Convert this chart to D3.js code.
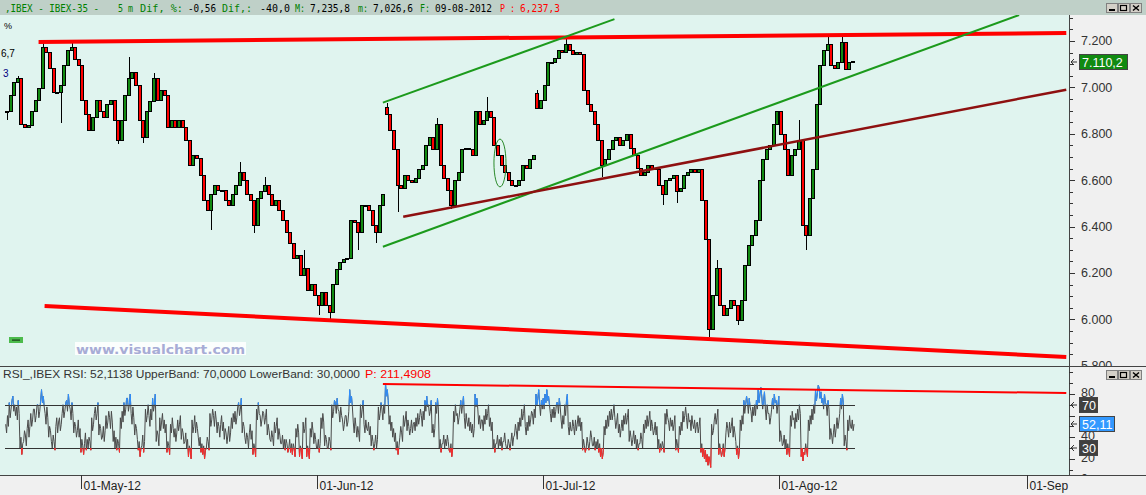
<!DOCTYPE html>
<html><head><meta charset="utf-8">
<script src="https://cdn.jsdelivr.net/npm/d3@7"></script>
<style>html,body{margin:0;padding:0;background:#f0f0f0;}svg{display:block;}</style>
</head><body><svg id="c" width="1146" height="495"></svg>
<script>
// ---------- DATA ----------
// IBEX-35 closes (3 bars per trading day), starting 7 trading days before 01-May-12
const closes = [
6894,6967,7023,7040,6838,6825,6834,6894,6945,6997,
7170,7152,7083,6980,6980,7010,7096,7161,7170,7118,
7096,6945,6881,6816,6868,6945,6894,6868,6924,6945,
6859,6773,6859,6967,7040,7066,7010,6859,6782,6894,
6937,7040,6945,6988,6967,6825,6859,6825,6859,6825,
6773,6665,6708,6695,6622,6514,6471,6536,6579,6557,
6557,6514,6492,6536,6579,6635,6600,6536,6514,6406,
6523,6549,6579,6536,6492,6514,6471,6428,6376,6328,
6264,6277,6191,6221,6126,6148,6104,6061,6117,6061,
6031,6148,6213,6247,6256,6264,6428,6419,6376,6492,
6492,6471,6406,6376,6492,6536,6881,6816,6730,6579,
6566,6622,6600,6592,6609,6644,6665,6751,6782,6730,
6838,6665,6609,6557,6492,6600,6635,6730,6738,6730,
6708,6894,6838,6859,6894,6868,6751,6708,6665,6635,
6600,6579,6575,6600,6665,6652,6687,6708,6911,6945,
7010,7109,7109,7126,7161,7152,7183,7161,7140,7152,
7140,6988,6924,6894,6838,6773,6665,6687,6730,6773,
6782,6751,6773,6795,6738,6708,6652,6622,6635,6665,
6652,6644,6579,6536,6600,6609,6622,6549,6566,6622,
6635,6644,6635,6644,6514,6342,5954,6104,6221,6061,
6018,6048,6083,6061,5997,6083,6234,6320,6363,6428,
6600,6687,6730,6751,6838,6894,6795,6730,6622,6708,
6730,6773,6406,6363,6523,6644,6924,7096,7161,7183,
7096,7083,7109,7195,7075,7109,7110
];
// bars that opened with a gap: [bar, open]
const gapOpens = [[106, 6915], [148, 6975]];
// visible long wicks: [bar, price]
const wickHighs = [[3,7050],[10,7195],[18,7195],[34,7131],[41,7060],[65,6678],[72,6613],[83,6299],[106,6932],[120,6870],[134,6958],[148,6990],[156,7215],[198,6256],[221,6859],[229,7215],[233,7225]];
const wickLows = [[0,6859],[15,6846],[31,6755],[38,6760],[57,6385],[69,6372],[87,6020],[90,5990],[98,6299],[103,6328],[109,6462],[124,6475],[166,6613],[183,6492],[187,6501],[196,5924],[204,5975],[223,6299]];

// RSI (4 values per price bar)
const rsiValues = [
52,44,60,50, 72,58,66,74, 78,64,70,60, 68,56,74,62, 30,40,24,34, 36,46,42,32, 48,56,40,50, 62,50,56,66, 66,54,60,70, 70,58,64,74,
84,72,78,68, 62,52,68,58, 40,50,46,36, 30,42,36,28, 50,58,44,54, 58,46,52,62, 70,58,64,72, 74,64,80,70, 66,56,72,62, 44,54,50,40,
46,56,40,48, 26,38,32,24, 34,44,28,38, 30,40,36,28, 58,46,52,62, 68,56,62,72, 42,52,48,38, 40,50,36,46, 60,48,54,64, 58,48,64,54,
36,46,30,40, 28,38,34,26, 58,48,64,54, 72,60,66,76, 76,64,70,80, 62,52,68,58, 42,52,48,38, 28,36,22,30, 32,42,26,36, 66,54,60,70,
60,50,66,56, 76,64,70,80, 36,46,42,32, 58,46,54,62, 48,56,44,52, 26,36,32,24, 52,44,58,48, 40,48,36,44, 56,46,52,60, 38,48,44,34,
36,44,30,38, 22,32,28,20, 56,44,50,60, 44,54,48,40, 32,40,26,34, 24,32,20,28, 30,40,36,28, 62,50,56,66, 60,50,64,56, 44,54,50,40,
52,60,46,54, 38,48,44,34, 42,50,36,44, 58,48,62,54, 64,52,58,68, 72,60,66,76, 44,54,50,40, 34,44,40,30, 44,52,38,46, 24,34,30,22,
66,56,72,62, 60,50,56,64, 62,52,58,66, 42,52,46,38, 36,46,40,32, 54,44,50,58, 38,48,42,34, 34,42,30,38, 28,38,34,26, 30,38,26,34,
24,34,30,22, 48,40,52,44, 22,32,28,20, 54,44,48,58, 22,32,26,20, 48,40,54,46, 34,44,38,30, 30,38,26,34, 58,48,62,54, 32,42,38,30,
30,40,36,28, 70,58,64,74, 72,62,76,66, 64,54,68,60, 56,46,52,60, 60,50,54,64, 84,72,78,68, 54,44,58,50, 40,50,44,36, 70,58,66,74,
52,44,56,48, 46,54,42,50, 32,42,36,28, 34,42,30,38, 68,56,62,72, 66,56,70,62, 90,78,84,74, 52,60,46,54, 40,48,36,44, 28,36,24,32,
40,50,44,36, 60,50,56,64, 46,56,50,42, 48,56,44,52, 54,46,58,50, 62,52,58,66, 60,50,64,56, 74,64,78,68, 70,60,64,74, 44,52,40,48,
72,62,76,66, 30,38,26,34, 34,42,30,38, 32,42,36,28, 26,34,22,30, 64,54,70,60, 62,52,58,66, 74,62,70,78, 58,48,62,54, 50,58,46,54,
44,52,40,48, 80,68,76,66, 52,60,48,56, 56,46,60,52, 66,56,62,70, 50,58,46,54, 30,38,26,34, 34,42,30,38, 32,40,28,36, 36,44,34,30,
30,38,34,28, 36,44,32,40, 42,52,46,38, 54,46,58,50, 66,56,62,70, 50,42,54,46, 60,50,56,64, 62,52,66,58, 80,70,76,84, 70,60,74,66,
76,66,80,72, 84,74,78,70, 62,54,66,58, 68,58,64,72, 72,62,76,68, 56,48,60,52, 70,60,74,80, 50,42,54,46, 46,56,50,42, 56,46,52,60,
50,58,46,54, 28,38,32,26, 30,40,34,28, 36,46,40,32, 32,40,28,36, 30,38,26,34, 22,30,20,26, 50,42,56,48, 60,50,64,56, 66,56,62,70,
58,48,54,62, 44,52,40,48, 56,46,60,52, 62,52,58,66, 36,46,40,32, 38,46,34,42, 30,38,28,34, 34,44,38,30, 52,44,56,48, 60,50,56,64,
46,56,50,42, 46,54,42,50, 30,38,26,34, 28,36,32,26, 62,52,66,58, 54,46,58,50, 56,46,52,60, 28,38,32,26, 50,42,54,46, 64,54,60,68,
58,48,62,54, 56,46,60,52, 48,56,44,52, 54,44,50,58, 26,34,22,30, 20,28,17,24, 14,22,18,12, 52,42,46,56, 62,52,58,66, 24,34,28,22,
26,34,22,30, 44,54,48,40, 54,44,50,58, 40,50,44,36, 24,32,20,28, 56,46,60,52, 74,62,70,78, 72,62,76,68, 64,54,68,60, 70,60,74,66,
84,72,80,86, 78,66,74,82, 66,56,70,62, 62,52,58,66, 76,66,80,72, 74,62,70,78, 36,46,40,32, 34,42,30,38, 24,34,28,22, 60,50,64,56,
58,48,62,54, 66,56,70,62, 22,30,18,26, 24,34,28,22, 56,46,60,52, 66,56,70,62, 84,74,80,88, 86,76,82,72, 76,66,80,72, 70,60,74,66,
38,48,42,34, 44,52,40,48, 58,48,54,62, 76,66,80,72, 32,42,36,28, 56,46,60,50, 48,56,46,52.11
];
const rsiUpperBand = 70;
const rsiLowerBand = 30;

// time axis (trading-day index, 0 = 01-May-12)
const monthTickDays = [0, 22, 43, 65, 88];
const monthTickLabels = ["01-May-12", "01-Jun-12", "01-Jul-12", "01-Ago-12", "01-Sep"];
const firstDay = -7;
const barsPerDay = 3;
const rsiPerDay = 12;

const priceTicks = [5800, 6000, 6200, 6400, 6600, 6800, 7000, 7200];
const priceMinorStep = 50;
const rsiTicks = [0, 20, 40, 60, 80];
const rsiTickLabels = [0, 20, 40, 80];   // 60 is hidden behind the value boxes
const lastPrice = 7110.2;
const lastRsi = 52.11;

// drawn trend lines [day, price]
const topResistance = [[-3.9, 7196], [91.7, 7234]];
const bottomSupport = [[-3.34, 6057], [91.7, 5838]];
const channelUpper = [[28.13, 6934], [49.67, 7294]];
const channelLower = [[28.13, 6313], [87.31, 7312]];
const maroonTrend = [[30.02, 6442], [91.7, 6990]];
const rsiTrend = [[28.13, 89.3], [91.7, 80.9]];
const ellipseMark = {day: 39.02, price: 6674, dDay: 0.56, dPrice: 103};

const headerTexts = [",IBEX - IBEX-35 -", "5 m", "Dif, %:", "-0,56", "Dif,:", "-40,0", "M:", "7,235,8", "m:", "7,026,6", "F:", "09-08-2012", "P :", "6,237,3"];
const headerColors = ["#008000", "#008000", "#008000", "#000", "#008000", "#000", "#008000", "#000", "#008000", "#000", "#008000", "#000", "#ff0000", "#ff0000"];
const rsiHeaderTexts = ["RSI_,IBEX RSI: 52,1138 UpperBand: 70,0000 LowerBand: 30,0000", "P: 211,4908"];
const rsiHeaderColors = ["#333", "#ff0000"];

// ---------- LAYOUT ----------
const W = 1146, H = 495;
const plotR = 1069;
const mainTop = 15, mainBot = 366;
const rsiTop = 367, rsiBot = 475;
const bg = "#e0f4ef";
const headerPos = [[5, 94], [118, 15], [140, 43], [188, 28], [222, 30], [260, 30], [295, 10], [310, 40], [358, 10], [373, 40], [420, 10], [435, 57], [500, 15], [520, 40]];
const rsiHeaderPos = [[3, 357], [365, 66]];
const svg = d3.select("#c");

const x = d3.scaleLinear().domain([0, 88]).range([80.5, 1026.5]);
const y = d3.scaleLinear().domain([5800, 7312]).range([365.7, 15]);
const yR = d3.scaleLinear().domain([0, 100]).range([480.4, 372.4]);

svg.append("rect").attr("width", W).attr("height", H).attr("fill", "#f0f0f0");
svg.append("rect").attr("x", 0).attr("y", 0).attr("width", W).attr("height", mainTop).attr("fill", "#bfd0c8");
svg.append("rect").attr("x", 0).attr("y", mainTop).attr("width", plotR).attr("height", mainBot - mainTop).attr("fill", bg);
svg.append("rect").attr("x", 0).attr("y", rsiTop).attr("width", plotR).attr("height", rsiBot - rsiTop).attr("fill", bg);

const defs = svg.append("defs");
defs.append("clipPath").attr("id", "clipMain").append("rect").attr("x", 0).attr("y", mainTop).attr("width", plotR).attr("height", mainBot - mainTop);
defs.append("clipPath").attr("id", "clipRsi").append("rect").attr("x", 0).attr("y", rsiTop).attr("width", plotR).attr("height", rsiBot - rsiTop);
defs.append("clipPath").attr("id", "clipHi").append("rect").attr("x", 0).attr("y", rsiTop).attr("width", plotR).attr("height", yR(rsiUpperBand) - rsiTop);
defs.append("clipPath").attr("id", "clipLo").append("rect").attr("x", 0).attr("y", yR(rsiLowerBand)).attr("width", plotR).attr("height", rsiBot - yR(rsiLowerBand));
defs.append("clipPath").attr("id", "clipAxisMain").append("rect").attr("x", plotR).attr("y", mainTop).attr("width", W - plotR).attr("height", mainBot - mainTop);
defs.append("clipPath").attr("id", "clipAxisRsi").append("rect").attr("x", plotR).attr("y", rsiTop).attr("width", W - plotR).attr("height", rsiBot - rsiTop);

// ---------- HEADER ----------
svg.append("g").selectAll("text").data(headerTexts).join("text")
  .attr("x", (d, i) => headerPos[i][0]).attr("y", 12)
  .attr("textLength", (d, i) => headerPos[i][1]).attr("lengthAdjust", "spacingAndGlyphs")
  .attr("font-family", "DejaVu Sans Mono").attr("font-size", 10.5)
  .attr("fill", (d, i) => headerColors[i]).text(d => d);

function winButtons(yy) {
  const g = svg.append("g");
  [1106, 1118, 1130].forEach((bx, i) => {
    g.append("rect").attr("x", bx + 0.5).attr("y", yy + 0.5).attr("width", 11).attr("height", 9).attr("fill", "#d4d0c8").attr("stroke", "#808080");
    if (i === 0) g.append("rect").attr("x", bx + 3).attr("y", yy + 6).attr("width", 6).attr("height", 2).attr("fill", "#000");
    if (i === 1) g.append("rect").attr("x", bx + 2.5).attr("y", yy + 2.5).attr("width", 6).attr("height", 5).attr("fill", "none").attr("stroke", "#000").attr("stroke-width", 1.2);
    if (i === 2) g.append("path").attr("d", `M${bx + 3},${yy + 2.5}L${bx + 9},${yy + 7.5}M${bx + 9},${yy + 2.5}L${bx + 3},${yy + 7.5}`).attr("stroke", "#000").attr("stroke-width", 1.5);
  });
}
winButtons(3);

// ---------- MAIN PANEL ----------
const main = svg.append("g").attr("clip-path", "url(#clipMain)");
main.append("text").attr("x", 4).attr("y", 29).attr("font-family", "Liberation Sans").attr("font-size", 9).attr("fill", "#000").text("%");
main.append("text").attr("x", 1).attr("y", 57).attr("font-family", "Liberation Sans").attr("font-size", 10).attr("fill", "#000").text("6,7");
main.append("text").attr("x", 3).attr("y", 77).attr("font-family", "Liberation Sans").attr("font-size", 10).attr("fill", "#000080").text("3");

const barDay = i => firstDay + (i + 0.5) / barsPerDay;
const hiMap = new Map(wickHighs), loMap = new Map(wickLows), gapMap = new Map(gapOpens);
const candles = closes.map((c, i) => {
  const o = gapMap.has(i) ? gapMap.get(i) : (i === 0 ? c : closes[i - 1]);
  const h = Math.max(o, c, hiMap.get(i) ?? -Infinity);
  const l = Math.min(o, c, loMap.get(i) ?? Infinity);
  return {i, o, c, h, l, day: barDay(i)};
});

const cg = main.append("g").attr("shape-rendering", "crispEdges");
cg.selectAll("line.w").data(candles).join("line").attr("class", "w")
  .attr("x1", d => Math.round(x(d.day)) + 0.5).attr("x2", d => Math.round(x(d.day)) + 0.5)
  .attr("y1", d => y(d.h)).attr("y2", d => y(d.l)).attr("stroke", "#000").attr("stroke-width", 1);
cg.selectAll("rect.b").data(candles).join("rect").attr("class", "b")
  .attr("x", d => Math.round(x(d.day)) - 1.5).attr("width", 3)
  .attr("y", d => Math.min(y(d.o), y(d.c)))
  .attr("height", d => Math.max(1, Math.abs(y(d.o) - y(d.c))))
  .attr("fill", d => d.c >= d.o ? "#118a11" : "#ff0000").attr("stroke", "#000").attr("stroke-width", 1);

function trend(g, pts, color, width, ys) {
  g.append("line").attr("x1", x(pts[0][0])).attr("y1", ys(pts[0][1])).attr("x2", x(pts[1][0])).attr("y2", ys(pts[1][1]))
    .attr("stroke", color).attr("stroke-width", width);
}
trend(main, topResistance, "#ff0000", 4, y);
trend(main, bottomSupport, "#ff0000", 4, y);
trend(main, channelUpper, "#1c9a1c", 2, y);
trend(main, channelLower, "#1c9a1c", 2, y);
trend(main, maroonTrend, "#8e1010", 2.5, y);
main.append("ellipse").attr("cx", x(ellipseMark.day)).attr("cy", y(ellipseMark.price))
  .attr("rx", x(ellipseMark.day + ellipseMark.dDay) - x(ellipseMark.day))
  .attr("ry", y(ellipseMark.price - ellipseMark.dPrice) - y(ellipseMark.price))
  .attr("fill", "none").attr("stroke", "#2a8a2a").attr("stroke-width", 1);

// small marker and watermark
main.append("rect").attr("x", 9).attr("y", 337).attr("width", 14).attr("height", 6).attr("fill", "#4cbb4c");
main.append("rect").attr("x", 12).attr("y", 339.5).attr("width", 8).attr("height", 1.2).attr("fill", "#1a3a1a");
main.append("rect").attr("x", 75).attr("y", 342).attr("width", 171).attr("height", 13).attr("fill", "#ffffff").attr("opacity", 0.85);
main.append("text").attr("x", 76).attr("y", 354).attr("font-family", "DejaVu Sans").attr("font-weight", "bold").attr("font-size", 13)
  .attr("textLength", 169).attr("lengthAdjust", "spacingAndGlyphs").attr("fill", "#a7acd6").text("www.visualchart.com");

// ---------- PRICE AXIS ----------
const axG = svg.append("g").attr("clip-path", "url(#clipAxisMain)");
const minor = d3.range(5800, 7312, priceMinorStep);
axG.selectAll("line.mn").data(minor).join("line").attr("class", "mn").attr("shape-rendering", "crispEdges")
  .attr("x1", plotR).attr("x2", d => priceTicks.includes(d) ? plotR + 6 : plotR + 4)
  .attr("y1", d => Math.round(y(d)) + 0.5).attr("y2", d => Math.round(y(d)) + 0.5).attr("stroke", "#333");
const fmtP = d => d3.format(",")(d).replace(",", ".");
axG.selectAll("text.pt").data(priceTicks).join("text").attr("class", "pt")
  .attr("x", 1081).attr("y", d => y(d) + 4.5).attr("font-family", "Liberation Sans").attr("font-size", 12.5).attr("fill", "#333").text(fmtP);
svg.append("line").attr("x1", plotR + 0.5).attr("x2", plotR + 0.5).attr("y1", mainTop).attr("y2", rsiBot).attr("stroke", "#444");

function valueBox(vy, label, fill, w) {
  const g = svg.append("g");
  g.append("path").attr("d", `M1077,${vy}H1071M1074,${vy - 3}L1071,${vy}L1074,${vy + 3}`).attr("stroke", "#333").attr("fill", "none");
  g.append("rect").attr("x", 1079.5).attr("y", vy - 7.5).attr("width", w).attr("height", 15).attr("fill", fill).attr("stroke", "#444");
  g.append("text").attr("x", 1082).attr("y", vy + 4.5).attr("font-family", "Liberation Sans").attr("font-size", 12.5).attr("fill", "#fff").text(label);
}
valueBox(Math.round(y(lastPrice)), d3.format(",.1f")(lastPrice).replace(",", "#").replace(".", ",").replace("#", "."), "#118a11", 48);

// ---------- SEPARATOR ----------
svg.append("line").attr("x1", 0).attr("x2", W).attr("y1", mainBot + 0.5).attr("y2", mainBot + 0.5).attr("stroke", "#444");

// ---------- RSI PANEL ----------
const rg = svg.append("g").attr("clip-path", "url(#clipRsi)");
rg.append("g").selectAll("text").data(rsiHeaderTexts).join("text")
  .attr("x", (d, i) => rsiHeaderPos[i][0]).attr("y", 378)
  .attr("textLength", (d, i) => rsiHeaderPos[i][1]).attr("lengthAdjust", "spacingAndGlyphs")
  .attr("font-family", "Liberation Sans").attr("font-size", 11.5)
  .attr("fill", (d, i) => rsiHeaderColors[i]).text(d => d);

const dayStart = firstDay, dayEnd = firstDay + closes.length / barsPerDay;
[rsiUpperBand, rsiLowerBand].forEach(v => rg.append("line").attr("shape-rendering", "crispEdges")
  .attr("x1", x(dayStart)).attr("x2", x(dayEnd)).attr("y1", Math.round(yR(v)) + 0.5).attr("y2", Math.round(yR(v)) + 0.5).attr("stroke", "#333"));
const rsiLine = d3.line().x((d, i) => x(firstDay + (i + 0.5) / rsiPerDay)).y(d => yR(d));
rg.append("path").datum(rsiValues).attr("d", rsiLine).attr("fill", "none").attr("stroke", "#4a4a4a").attr("stroke-width", 1);
rg.append("g").attr("clip-path", "url(#clipHi)").append("path").datum(rsiValues).attr("d", rsiLine).attr("fill", "none").attr("stroke", "#2f8fff").attr("stroke-width", 1);
rg.append("g").attr("clip-path", "url(#clipLo)").append("path").datum(rsiValues).attr("d", rsiLine).attr("fill", "none").attr("stroke", "#ff2a2a").attr("stroke-width", 1);
trend(rg, rsiTrend, "#ff0000", 2, yR);
winButtons(370);

// RSI axis
const raG = svg.append("g").attr("clip-path", "url(#clipAxisRsi)");
raG.selectAll("line").data(d3.range(0, 101, 10)).join("line").attr("shape-rendering", "crispEdges")
  .attr("x1", plotR).attr("x2", d => rsiTicks.includes(d) ? plotR + 6 : plotR + 4)
  .attr("y1", d => Math.round(yR(d)) + 0.5).attr("y2", d => Math.round(yR(d)) + 0.5).attr("stroke", "#333");
raG.selectAll("text").data(rsiTickLabels).join("text").attr("x", 1081).attr("y", d => yR(d) + 3)
  .attr("font-family", "Liberation Sans").attr("font-size", 12.5).attr("fill", "#333").text(d => d);
valueBox(Math.round(yR(rsiUpperBand)), String(rsiUpperBand), "#404040", 18);
valueBox(Math.round(yR(lastRsi)), String(lastRsi).replace(".", ","), "#3399ff", 35);
valueBox(Math.round(yR(rsiLowerBand)), String(rsiLowerBand), "#404040", 18);

// ---------- TIME AXIS ----------
svg.append("line").attr("x1", 0).attr("x2", W).attr("y1", rsiBot + 0.5).attr("y2", rsiBot + 0.5).attr("stroke", "#444");
const tg = svg.append("g");
monthTickDays.forEach((d, i) => {
  const xx = Math.round(x(d)) + 0.5;
  tg.append("line").attr("x1", xx).attr("x2", xx).attr("y1", rsiBot).attr("y2", 489).attr("stroke", "#333");
  tg.append("text").attr("x", xx + 2).attr("y", 490).attr("font-family", "Liberation Sans").attr("font-size", 12).attr("fill", "#222").text(monthTickLabels[i]);
});
</script></body></html>
